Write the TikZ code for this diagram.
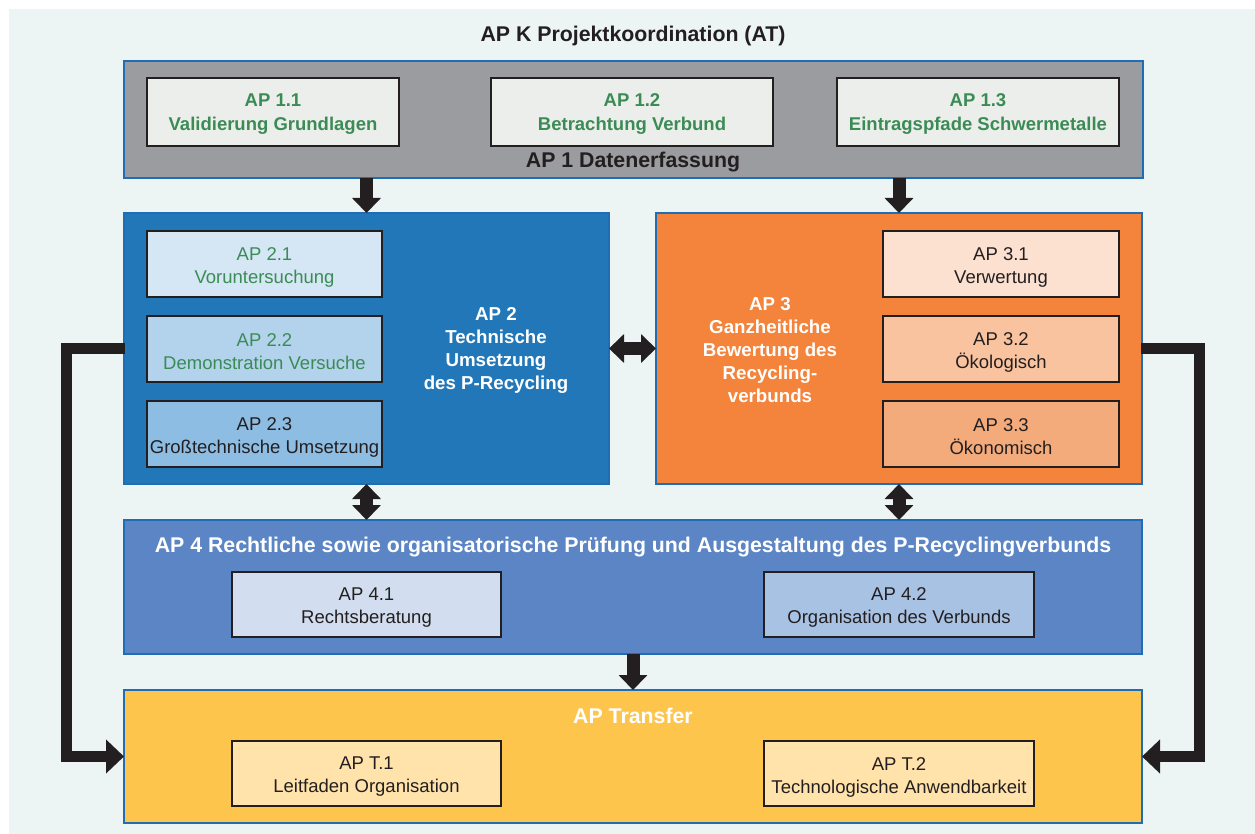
\documentclass[tikz,border=0pt]{standalone}
\usepackage{fontspec}
\setmainfont{Liberation Sans}
\usetikzlibrary{arrows.meta}
\definecolor{bgc}{HTML}{EDF5F4}
\definecolor{bordblue}{HTML}{1F6DB5}
\definecolor{grayfill}{HTML}{9A9C9F}
\definecolor{innergray}{HTML}{ECEEEC}
\definecolor{greentxt}{HTML}{3B8B55}
\definecolor{darktxt}{HTML}{231F20}
\definecolor{bluetwo}{HTML}{2277B8}
\definecolor{blueA}{HTML}{D5E7F5}
\definecolor{blueB}{HTML}{B3D2EC}
\definecolor{blueC}{HTML}{8DBDE3}
\definecolor{orangethree}{HTML}{F4843C}
\definecolor{orangeA}{HTML}{FCE0D0}
\definecolor{orangeB}{HTML}{FAC39F}
\definecolor{orangeC}{HTML}{F4AB7C}
\definecolor{bluefour}{HTML}{5B85C5}
\definecolor{fourA}{HTML}{D2DEEF}
\definecolor{fourB}{HTML}{A8C2E4}
\definecolor{yellowT}{HTML}{FDC54C}
\definecolor{yellowA}{HTML}{FFE3AA}
\begin{document}
\begin{tikzpicture}[x=1pt,y=-1pt,
  outerbox/.style={draw=bordblue, line width=2.5pt, inner sep=0pt, outer sep=0pt},
  innerbox/.style={draw=darktxt, line width=2.5pt, inner sep=0pt, outer sep=0pt},
  boxtext/.style={align=center, inner sep=0pt, font=\fontsize{18.5}{23}\selectfont, text=darktxt},
  greenbold/.style={text=greentxt, font=\fontsize{18.5}{24}\selectfont\bfseries},
  greenreg/.style={text=greentxt},
  titletext/.style={font=\fontsize{21.3}{24}\selectfont\bfseries, align=center, inner sep=0pt},
  labeltext/.style={font=\fontsize{18.7}{23}\selectfont\bfseries, align=center, inner sep=0pt, text=white},
  blockarrow/.style={draw=darktxt, line width=13pt, -{Triangle[width=28pt,length=15pt]}},
  dblarrow/.style={draw=darktxt, line width=13pt, {Triangle[width=28pt,length=15pt]}-{Triangle[width=28pt,length=15pt]}},
  elbowarrow/.style={draw=darktxt, line width=11pt, -{Triangle[width=33pt,length=18pt]}}
]
\useasboundingbox (0,0) rectangle (1255,834);
\fill[bgc] (9,9) rectangle (1255,834);

\node[titletext, text=darktxt] (apk) at (633,36) {AP K Projektkoordination (AT)};

% AP 1
\node[outerbox, fill=grayfill, minimum width=1019pt, minimum height=117pt] (ap1) at (633.5,119.5) {};
\node[titletext, text=darktxt] (ap1t) at (633,162) {AP 1 Datenerfassung};
\node[innerbox, fill=innergray, minimum width=252pt, minimum height=68pt] (ap11) at (273,112) {};
\node[innerbox, fill=innergray, minimum width=282pt, minimum height=68pt] (ap12) at (632,112) {};
\node[innerbox, fill=innergray, minimum width=282pt, minimum height=68pt] (ap13) at (978,112) {};
\node[boxtext, greenbold] (ap11t) at ([yshift=-2pt]ap11.center) {AP 1.1\\Validierung Grundlagen};
\node[boxtext, greenbold] (ap12t) at ([yshift=-2pt]ap12.center) {AP 1.2\\Betrachtung Verbund};
\node[boxtext, greenbold] (ap13t) at ([yshift=-2pt]ap13.center) {AP 1.3\\Eintragspfade Schwermetalle};

% AP 2
\node[outerbox, fill=bluetwo, minimum width=485pt, minimum height=271pt] (ap2) at (366.5,348.5) {};
\node[labeltext] (ap2t) at (496,350) {AP 2\\Technische\\Umsetzung\\des P-Recycling};
\node[innerbox, fill=blueA, minimum width=235pt, minimum height=66pt] (ap21) at (264.5,264) {};
\node[innerbox, fill=blueB, minimum width=235pt, minimum height=66pt] (ap22) at (264.5,349) {};
\node[innerbox, fill=blueC, minimum width=235pt, minimum height=66pt] (ap23) at (264.5,434) {};
\node[boxtext, greenreg] (ap21t) at ([yshift=-3pt]ap21.center) {AP 2.1\\Voruntersuchung};
\node[boxtext, greenreg] (ap22t) at ([yshift=-3pt]ap22.center) {AP 2.2\\Demonstration Versuche};
\node[boxtext] (ap23t) at ([yshift=-3pt]ap23.center) {AP 2.3\\Großtechnische Umsetzung};

% AP 3
\node[outerbox, fill=orangethree, minimum width=486pt, minimum height=271pt] (ap3) at (899,348.5) {};
\node[labeltext] (ap3t) at (770,350) {AP 3\\Ganzheitliche\\Bewertung des\\Recycling-\\verbunds};
\node[innerbox, fill=orangeA, minimum width=236pt, minimum height=66pt] (ap31) at (1001,264) {};
\node[innerbox, fill=orangeB, minimum width=236pt, minimum height=66pt] (ap32) at (1001,349) {};
\node[innerbox, fill=orangeC, minimum width=236pt, minimum height=66pt] (ap33) at (1001,434) {};
\node[boxtext] (ap31t) at ([yshift=-3pt]ap31.center) {AP 3.1\\Verwertung};
\node[boxtext] (ap32t) at ([yshift=-3pt]ap32.center) {AP 3.2\\Ökologisch};
\node[boxtext] (ap33t) at ([yshift=-3pt]ap33.center) {AP 3.3\\Ökonomisch};

% AP 4
\node[outerbox, fill=bluefour, minimum width=1018pt, minimum height=134pt] (ap4) at (633,587) {};
\node[titletext, text=white] (ap4t) at (633,547) {AP 4 Rechtliche sowie organisatorische Prüfung und Ausgestaltung des P-Recyclingverbunds};
\node[innerbox, fill=fourA, minimum width=269pt, minimum height=65pt] (ap41) at (366.5,604.5) {};
\node[innerbox, fill=fourB, minimum width=270pt, minimum height=65pt] (ap42) at (899,604.5) {};
\node[boxtext] (ap41t) at ([yshift=-3pt]ap41.center) {AP 4.1\\Rechtsberatung};
\node[boxtext] (ap42t) at ([yshift=-3pt]ap42.center) {AP 4.2\\Organisation des Verbunds};

% Transfer
\node[outerbox, fill=yellowT, minimum width=1018pt, minimum height=133pt] (tr) at (633,756.5) {};
\node[titletext, text=white] (trt) at (633,716) {AP Transfer};
\node[innerbox, fill=yellowA, minimum width=269pt, minimum height=65pt] (t1) at (366.5,773.5) {};
\node[innerbox, fill=yellowA, minimum width=270pt, minimum height=65pt] (t2) at (899,773.5) {};
\node[boxtext] (t1t) at ([yshift=-3.5pt]t1.center) {AP T.1\\Leitfaden Organisation};
\node[boxtext] (t2t) at ([yshift=-3.5pt]t2.center) {AP T.2\\Technologische Anwendbarkeit};

% connectors
\draw[blockarrow] (ap1.south -| ap2.north) -- (ap2.north);
\draw[blockarrow] (ap1.south -| ap3.north) -- (ap3.north);
\draw[dblarrow] (ap2.east) -- (ap3.west);
\draw[dblarrow] (ap2.south) -- (ap4.north -| ap2.south);
\draw[dblarrow] (ap3.south) -- (ap4.north -| ap3.south);
\draw[blockarrow] (ap4.south) -- (tr.north);
\draw[elbowarrow] ([xshift=1pt]ap2.west) -- ++(-59,0) |- (tr.west);
\draw[elbowarrow] ([xshift=-1pt]ap3.east) -- ++(58,0) |- (tr.east);
\end{tikzpicture}
\end{document}
